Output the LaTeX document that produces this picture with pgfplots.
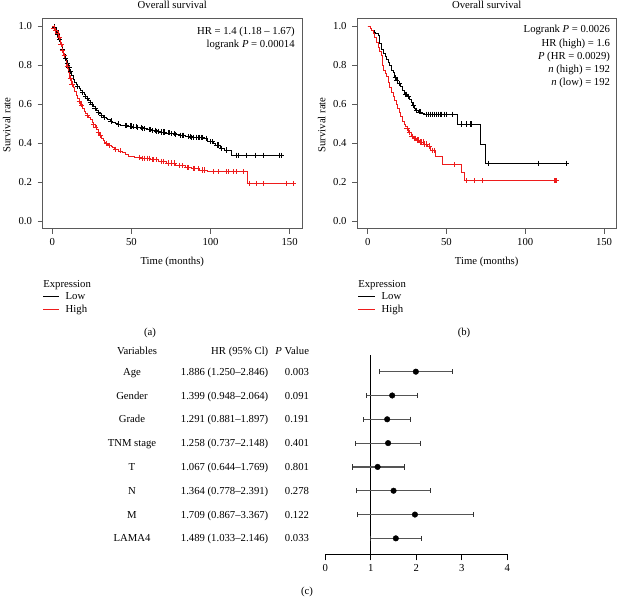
\documentclass[border=0pt]{standalone}
\usepackage{pgfplots}
\pgfplotsset{compat=1.18}
\usepackage{fontspec}
\setmainfont{Liberation Serif}
\definecolor{frame}{HTML}{5A5A5A}
\definecolor{kmred}{HTML}{EE1C1C}
\definecolor{errgray}{HTML}{555555}
\definecolor{capgray}{HTML}{333333}
\pgfplotsset{
  km/.style={
    scale only axis, height=210.6pt,
    ymin=-0.04, ymax=1.04,
    ytick={0,0.2,0.4,0.6,0.8,1},
    xtick={0,50,100,150},
    /pgf/number format/assume math mode=true,
    yticklabel style={xshift=-2pt, /pgf/number format/fixed, /pgf/number format/fixed zerofill, /pgf/number format/precision=1},
    xticklabel style={yshift=-1pt},
    tick pos=left, tick align=outside, major tick length=5pt,
    axis line style={frame, line width=0.7pt},
    every tick/.style={frame, line width=0.7pt},
  },
  lowline/.style={black, line width=0.6pt, const plot, mark=none},
  highline/.style={kmred, line width=0.6pt, const plot, mark=none},
  lowcens/.style={black, only marks, mark=+, mark size=2.6pt, mark options={line width=0.55pt}},
  highcens/.style={kmred, only marks, mark=+, mark size=2.6pt, mark options={line width=0.55pt}},
}
\begin{document}
\fontsize{10.7}{12.8}\selectfont
\begin{tikzpicture}
\path[use as bounding box] (0pt,0pt) rectangle (617pt,-596pt);

% ---------------- panel (a)
\begin{axis}[km, at={(42.7pt,-228.8pt)}, anchor=south west, width=259.3pt,
  xmin=-6.07, xmax=157.8]
\addplot[lowline] coordinates {
(0,1.000)(1,0.995)(2,0.978)(3,0.955)(4,0.930)(5,0.905)(6,0.880)(7,0.856)(8,0.832)(9,0.810)
(10,0.788)(11,0.766)(12,0.745)(13,0.728)(14,0.712)(15,0.700)(16,0.690)(17,0.680)(18,0.670)(19,0.660)
(20,0.650)(21,0.640)(22,0.628)(23,0.618)(24,0.608)(25,0.598)(26,0.588)(27,0.577)(28,0.566)(29,0.558)
(30,0.550)(31,0.543)(32,0.537)(33,0.531)(34,0.525)(35,0.519)(36.5,0.513)(38,0.507)(39.5,0.502)(41,0.497)
(43,0.492)(45,0.490)(48,0.487)(51,0.483)(54,0.479)(57,0.475)(60,0.469)(63,0.464)(66,0.460)(69,0.456)
(72,0.452)(75,0.448)(78,0.444)(81,0.440)(84,0.433)(88,0.430)(92,0.428)(96,0.424)(98,0.407)(102,0.398)
(103,0.390)(106,0.373)(109,0.364)(113,0.337)(145.3,0.337)};
\addplot[highline] coordinates {
(0,1.000)(1,0.990)(2,0.978)(3,0.962)(4,0.940)(5,0.905)(6,0.875)(7,0.848)(8,0.822)(9,0.795)
(10,0.765)(11,0.733)(12,0.703)(13,0.685)(14,0.665)(15,0.645)(16,0.628)(17,0.612)(18,0.596)(19,0.580)
(20,0.565)(21,0.553)(22,0.543)(23,0.532)(24,0.520)(25,0.507)(26,0.494)(27,0.480)(28,0.468)(29,0.455)
(30,0.440)(31,0.426)(32,0.415)(33,0.405)(34,0.398)(35,0.392)(36,0.387)(37,0.381)(38,0.377)(39,0.372)
(40,0.368)(42,0.360)(44,0.350)(46,0.340)(48,0.333)(50,0.330)(52,0.327)(56,0.322)(62,0.314)(67,0.305)
(72,0.297)(78,0.285)(84,0.275)(88,0.270)(93,0.262)(98,0.253)(123,0.193)(152.3,0.193)};
\addplot[lowcens] coordinates {
(1.5,0.995)(2.5,0.978)(3.2,0.955)(4.5,0.930)(5.5,0.905)(6.5,0.880)(8.5,0.832)(9.5,0.810)(10.5,0.788)(11.5,0.766)
(16,0.690)(19,0.660)(21,0.640)(22,0.628)(24,0.608)(25,0.598)(27,0.577)(29,0.558)(31,0.543)(33,0.531)
(37,0.513)(42,0.497)(46,0.490)(47,0.490)(49,0.487)(50,0.487)(51,0.483)(53,0.483)(54,0.479)(56,0.479)
(57,0.475)(58,0.475)(61,0.469)(62,0.469)(63,0.464)(65,0.464)(66,0.460)(67,0.460)(69,0.456)(70,0.456)
(71,0.456)(73,0.452)(74,0.452)(75,0.448)(77,0.448)(78,0.444)(81,0.440)(82,0.440)(83,0.440)(86,0.433)
(87,0.433)(88,0.430)(89,0.430)(91,0.430)(92,0.428)(93,0.428)(94,0.428)(95,0.428)(97,0.424)(100,0.407)
(101,0.407)(104,0.390)(105,0.390)(107,0.373)(110,0.364)(116.5,0.337)(117.5,0.337)(122.8,0.337)(128,0.337)(133.3,0.337)
(143.4,0.337)(145,0.337)};
\addplot[highcens] coordinates {
(1,0.990)(2,0.978)(3.5,0.962)(4.5,0.940)(5.5,0.905)(6.5,0.875)(7.5,0.848)(9.5,0.795)(11.5,0.733)(12.5,0.703)
(17,0.612)(18.5,0.596)(22,0.543)(26,0.494)(27.5,0.480)(29,0.455)(30.5,0.440)(34,0.398)(36,0.387)(40,0.368)
(43,0.360)(55,0.327)(57,0.322)(58,0.322)(60,0.322)(61,0.322)(63,0.314)(64,0.314)(66,0.314)(69,0.305)
(70,0.305)(73,0.297)(75,0.297)(77,0.297)(80,0.285)(82,0.285)(85,0.275)(86,0.275)(89,0.270)(90,0.270)
(92,0.270)(95,0.262)(96,0.262)(101.7,0.253)(105,0.253)(110.2,0.253)(111,0.253)(114.4,0.253)(116.5,0.253)(120.7,0.253)
(124.5,0.193)(129,0.193)(133.3,0.193)(147.6,0.193)(152.3,0.193)};
\end{axis}

% ---------------- panel (b)
\begin{axis}[km, at={(357.3pt,-228.8pt)}, anchor=south west, width=258.7pt,
  xmin=-6.6, xmax=157.6]
\addplot[lowline] coordinates {
(0,1.000)(1.5,0.990)(2.5,0.980)(4,0.970)(5,0.960)(6.5,0.950)(7.5,0.910)(8.5,0.880)(10,0.860)(11,0.845)
(12,0.830)(13,0.815)(14,0.800)(15,0.775)(16,0.760)(17,0.735)(18,0.720)(19,0.705)(20.5,0.690)(22,0.670)
(23.5,0.650)(25,0.640)(26.5,0.625)(27.5,0.610)(28.5,0.595)(29.5,0.580)(30.5,0.568)(32,0.560)(34,0.552)(36,0.547)
(57,0.497)(71.3,0.395)(74.4,0.296)(126.5,0.296)};
\addplot[highline] coordinates {
(0,1.000)(1.5,0.990)(2.5,0.980)(3.5,0.960)(4.5,0.942)(5.5,0.915)(6.5,0.890)(7.5,0.870)(8.5,0.850)(9.5,0.800)
(10,0.775)(11,0.755)(12,0.740)(13,0.710)(14,0.685)(15,0.660)(16,0.640)(17,0.620)(18,0.600)(19,0.580)
(20,0.560)(21,0.535)(22,0.510)(23,0.495)(24,0.485)(25,0.475)(26,0.455)(27.5,0.435)(29,0.425)(31,0.415)
(33,0.405)(35.5,0.395)(38,0.385)(40,0.362)(43,0.330)(47.4,0.289)(59.4,0.250)(61.5,0.207)(119.9,0.207)};
\addplot[lowcens] coordinates {
(17.5,0.735)(18.5,0.720)(20,0.705)(24,0.650)(24.5,0.650)(26,0.640)(29,0.595)(31,0.568)(32.5,0.560)(33.5,0.560)
(37,0.547)(38.5,0.547)(40,0.547)(41,0.547)(42.5,0.547)(43.5,0.547)(45,0.547)(46,0.547)(47,0.547)(48.5,0.547)
(50,0.547)(53.5,0.547)(59.2,0.497)(62.8,0.497)(64.9,0.497)(66,0.497)(76.6,0.296)(108.3,0.296)(126.3,0.296)};
\addplot[highcens] coordinates {
(25,0.475)(26.5,0.455)(28,0.435)(29.5,0.425)(30.5,0.425)(31.5,0.415)(32.3,0.415)(33.5,0.405)(34.3,0.405)(35,0.405)
(36,0.395)(37,0.395)(39,0.385)(41,0.362)(42,0.362)(55.2,0.289)(62.5,0.207)(67.7,0.207)(73,0.207)(118.2,0.207)
(119.2,0.207)(119.9,0.207)};
\end{axis}

% ---------------- panel (c) forest plot
\begin{axis}[at={(325.3pt,-554.3pt)}, anchor=south west, scale only axis,
  width=182pt, height=199.3pt,
  xmin=0, xmax=4, ymin=0.33, ymax=8.70,
  axis x line=bottom, axis y line=none,
  x axis line style={-, line width=0.7pt},
  xtick={0,1,2,3,4}, ytick=\empty,
  tick align=outside, major tick length=6pt,
  every tick/.style={black, line width=0.7pt},
  /pgf/number format/assume math mode=true,
  clip=false]
\addplot[black, line width=0.7pt, mark=none] coordinates {(1,0.33) (1,8.70)};
\addplot[black, only marks, mark=*, mark size=2.8pt,
  error bars/.cd, x dir=both, x explicit,
  error mark=|,
  error bar style={draw=errgray, line width=1.2pt},
  error mark options={draw=capgray, line width=0.9pt, mark size=2.6pt}]
  table[x=x, y=y, x error plus=ep, x error minus=em] {
x    y  em   ep
1.99 8  0.80 0.81
1.47 7  0.57 0.56
1.36 6  0.52 0.51
1.38 5  0.71 0.71
1.15 4  0.56 0.58
1.50 3  0.81 0.82
1.97 2  1.26 1.28
1.55 1  0.55 0.56
};
\end{axis}

% ---------------- text
\begin{scope}[x=1pt, y=-1pt, every node/.style={inner sep=0pt, outer sep=0pt}]
% titles
\node[anchor=base] at (172.3,8.3) {Overall survival};
\node[anchor=base] at (486.7,8.3) {Overall survival};
% axis labels
\node[rotate=90] at (6.7,125) {Survival rate};
\node[rotate=90] at (321.7,125) {Survival rate};
\node[anchor=base] at (172.3,264.3) {Time (months)};
\node[anchor=base] at (486.7,264.3) {Time (months)};
% annotations (a)
\node[anchor=base east] at (294.7,35) {HR = 1.4 (1.18 -- 1.67)};
\node[anchor=base east] at (294.7,47.3) {logrank \textit{P} = 0.00014};
% annotations (b)
\node[anchor=base east] at (610,33) {Logrank \textit{P} = 0.0026};
\node[anchor=base east] at (610,46.2) {HR (high) = 1.6};
\node[anchor=base east] at (610,59.3) {\textit{P} (HR = 0.0029)};
\node[anchor=base east] at (610,72.4) {\textit{n} (high) = 192};
\node[anchor=base east] at (610,85.5) {\textit{n} (low) = 192};
% legends
\node[anchor=base west] at (43.3,287.3) {Expression};
\draw[black, line width=0.6pt] (43,296.3) -- (59.3,296.3);
\node[anchor=base west] at (65.7,299.6) {Low};
\draw[kmred, line width=0.6pt] (43,309.3) -- (59.3,309.3);
\node[anchor=base west] at (65.7,312.7) {High};
\node[anchor=base west] at (358.3,287.3) {Expression};
\draw[black, line width=0.6pt] (358.3,296.3) -- (375,296.3);
\node[anchor=base west] at (381.7,299.6) {Low};
\draw[kmred, line width=0.6pt] (358.3,309.3) -- (375,309.3);
\node[anchor=base west] at (381.7,312.7) {High};
% panel letters
\node[anchor=base] at (150,335) {(a)};
\node[anchor=base] at (464,335) {(b)};
\node[anchor=base] at (307,594.3) {(c)};
% forest table
\node[anchor=base] at (137,354.7) {Variables};
\node[anchor=base east] at (268.3,354.7) {HR (95\% Cl)};
\node[anchor=base east] at (309,354.7) {\textit{P} Value};
\foreach \v/\h/\p/\y in {
  Age/1.886 (1.250--2.846)/0.003/371.3,
  Gender/1.399 (0.948--2.064)/0.091/395.3,
  Grade/1.291 (0.881--1.897)/0.191/418.7,
  TNM stage/1.258 (0.737--2.148)/0.401/442.7,
  T/1.067 (0.644--1.769)/0.801/466.3,
  N/1.364 (0.778--2.391)/0.278/490.3,
  M/1.709 (0.867--3.367)/0.122/514.3,
  LAMA4/1.489 (1.033--2.146)/0.033/537.7}{
  \node[anchor=base] at (132,\y+3.7) {\v};
  \node[anchor=base east] at (268.3,\y+3.7) {\h};
  \node[anchor=base east] at (309,\y+3.7) {\p};
}
\end{scope}
\end{tikzpicture}
\end{document}
